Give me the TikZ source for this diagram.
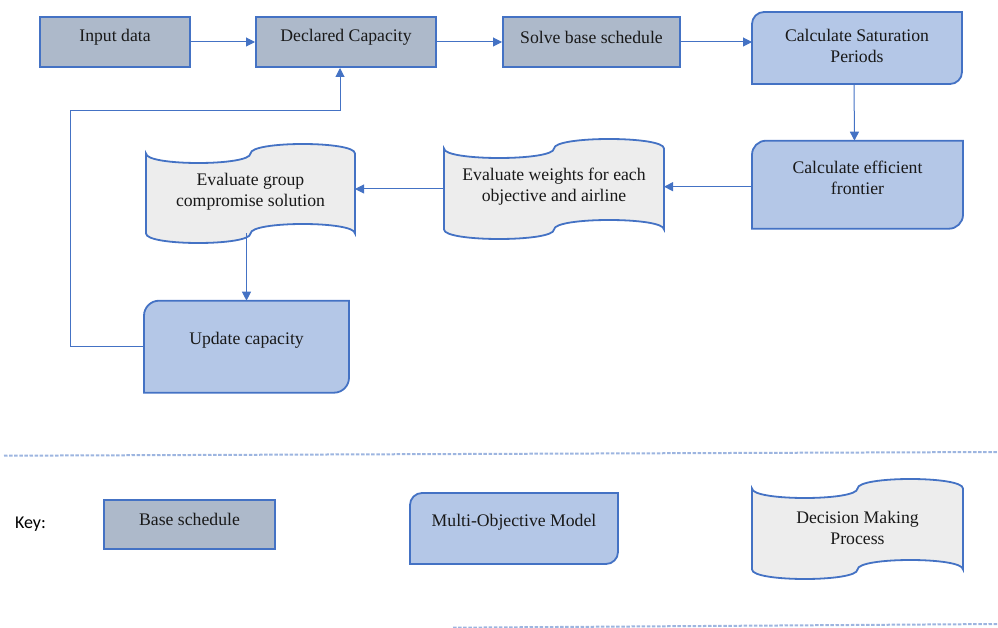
\documentclass[tikz,border=0pt]{standalone}
\usepackage{fontspec}
\setmainfont{Liberation Serif}
\newfontfamily\keyfont{Carlito}
\usetikzlibrary{arrows.meta,calc}
\definecolor{edgeblue}{HTML}{4472C4}
\definecolor{basefill}{HTML}{ADB9CA}
\definecolor{mofill}{HTML}{B4C7E7}
\definecolor{dmfill}{HTML}{EDEDED}
\definecolor{dashblue}{HTML}{9DB5E0}
\tikzset{
  basebox/.style={draw=edgeblue, fill=basefill, line width=2pt, inner sep=0pt},
  shp/.style={draw=none, inner sep=0pt, outer sep=1pt},
  mostyle/.style={draw=edgeblue, fill=mofill, line width=1.8pt},
  dmstyle/.style={draw=edgeblue, fill=dmfill, line width=1.8pt},
  txt/.style={font=\fontsize{17.7}{21}\selectfont, align=center, inner sep=0pt, text=black!90},
  conn/.style={draw=edgeblue, line width=1pt, -{Triangle[length=9pt,width=9pt]}},
  sep/.style={draw=dashblue, line width=2pt, dash pattern=on 3.5pt off 1.6pt}
}
% rounded diagonal corner rectangle around a node
\newcommand\rdiag[2]{\path[mostyle] let \p1=(#1.north west), \p2=(#1.south east) in
  (\x1,\y2) -- (\x1,{\y1-#2}) .. controls (\x1,{\y1-0.448*#2}) and ({\x1+0.448*#2},\y1) .. ({\x1+#2},\y1)
  -- (\x2,\y1) -- (\x2,{\y2+#2}) .. controls (\x2,{\y2+0.448*#2}) and ({\x2-0.448*#2},\y2) .. ({\x2-#2},\y2)
  -- cycle;}
% punched tape around a node
\newcommand\tape[2]{\path[dmstyle] let \p1=(#1.north west), \p2=(#1.south east), \p3=(#1.north) in
  (\x1,{\y1-#2}) .. controls (\x1,{\y1-#2-4/3*#2}) and (\x3,{\y1-#2-4/3*#2}) .. (\x3,{\y1-#2})
  .. controls (\x3,{\y1-#2+4/3*#2}) and (\x2,{\y1-#2+4/3*#2}) .. (\x2,{\y1-#2})
  -- (\x2,{\y2+#2})
  .. controls (\x2,{\y2+#2+4/3*#2}) and (\x3,{\y2+#2+4/3*#2}) .. (\x3,{\y2+#2})
  .. controls (\x3,{\y2+#2-4/3*#2}) and (\x1,{\y2+#2-4/3*#2}) .. (\x1,{\y2+#2})
  -- cycle;}
\begin{document}
\begin{tikzpicture}[x=1pt,y=-1pt]
\useasboundingbox (0,0) rectangle (998,628);
% base schedule boxes
\node[basebox, minimum width=150pt, minimum height=50pt] (in) at (115,42) {};
\node[basebox, minimum width=180pt, minimum height=50pt] (dc) at (346,42) {};
\node[basebox, minimum width=177pt, minimum height=50pt] (sbs) at (591.5,42) {};
% multi-objective shapes
\node[shp, minimum width=208pt, minimum height=70pt] (sat) at (857,48) {};
\rdiag{sat}{12pt}
\node[shp, minimum width=209pt, minimum height=86pt] (eff) at (857.5,184.7) {};
\rdiag{eff}{14pt}
\node[shp, minimum width=203pt, minimum height=90pt] (up) at (246.5,346.7) {};
\rdiag{up}{15pt}
% decision making shapes
\node[shp, minimum width=218pt, minimum height=98pt] (ew) at (554,189) {};
\tape{ew}{9.5pt}
\node[shp, minimum width=207pt, minimum height=97pt] (gc) at (250.5,193.5) {};
\tape{gc}{9.5pt}
% texts
\node[txt] (tin) at (115,37) {Input data};
\node[txt] (tdc) at (346,37) {Declared Capacity};
\node[txt] (tsbs) at (591.5,37) {Solve base schedule};
\node[txt] (tsat) at (857,45.5) {Calculate Saturation\\Periods};
\node[txt] (teff) at (857.5,177.5) {Calculate efficient\\frontier};
\node[txt] (tew) at (554,187) {Evaluate weights for each\\objective and airline};
\node[txt] (tgc) at (250.5,191.5) {Evaluate group\\compromise solution};
\node[txt] (tup) at (246.5,340) {Update capacity};
% connectors
\draw[conn] (in.east) -- (dc.west);
\draw[conn] (dc.east) -- (sbs.west);
\draw[conn] (sbs.east) -- (sbs.east -| sat.west);
\draw[conn] ([xshift=-3pt]sat.south) -- ([xshift=-3pt]eff.north);
\draw[conn] ([yshift=-2pt]eff.west) -- ([yshift=-2pt]eff.west -| ew.east);
\draw[conn] (ew.west) -- (ew.west -| gc.east);
\coordinate (gcb) at ([yshift=9.5pt]gc.south);
\draw[conn] (gcb -| up.north) -- (up.north);
\coordinate (loop) at (70,111);
\draw[conn] (up.west) -| (loop) -| ([xshift=-6pt]dc.south);
% separators
\coordinate (s1a) at (4,455.7);
\coordinate (s1b) at (998,452);
\coordinate (s2a) at (453,627.7);
\coordinate (s2b) at (998,624);
\draw[sep] (s1a) -- (s1b);
\draw[sep] (s2a) -- (s2b);
% key
\node[font=\keyfont\fontsize{18}{21}\selectfont, inner sep=0pt] (key) at (30.5,524) {Key:};
\node[basebox, minimum width=171pt, minimum height=49pt] (kbs) at (189.5,524.8) {};
\node[shp, minimum width=206pt, minimum height=69pt] (kmo) at (514,528.5) {};
\rdiag{kmo}{12pt}
\node[shp, minimum width=209pt, minimum height=98pt] (kdm) at (857.5,529) {};
\tape{kdm}{9.5pt}
\node[txt] (tkbs) at (189.5,519) {Base schedule};
\node[txt] (tkmo) at (514,522) {Multi-Objective Model};
\node[txt] (tkdm) at (857.5,527.5) {Decision Making\\Process};
\end{tikzpicture}
\end{document}
